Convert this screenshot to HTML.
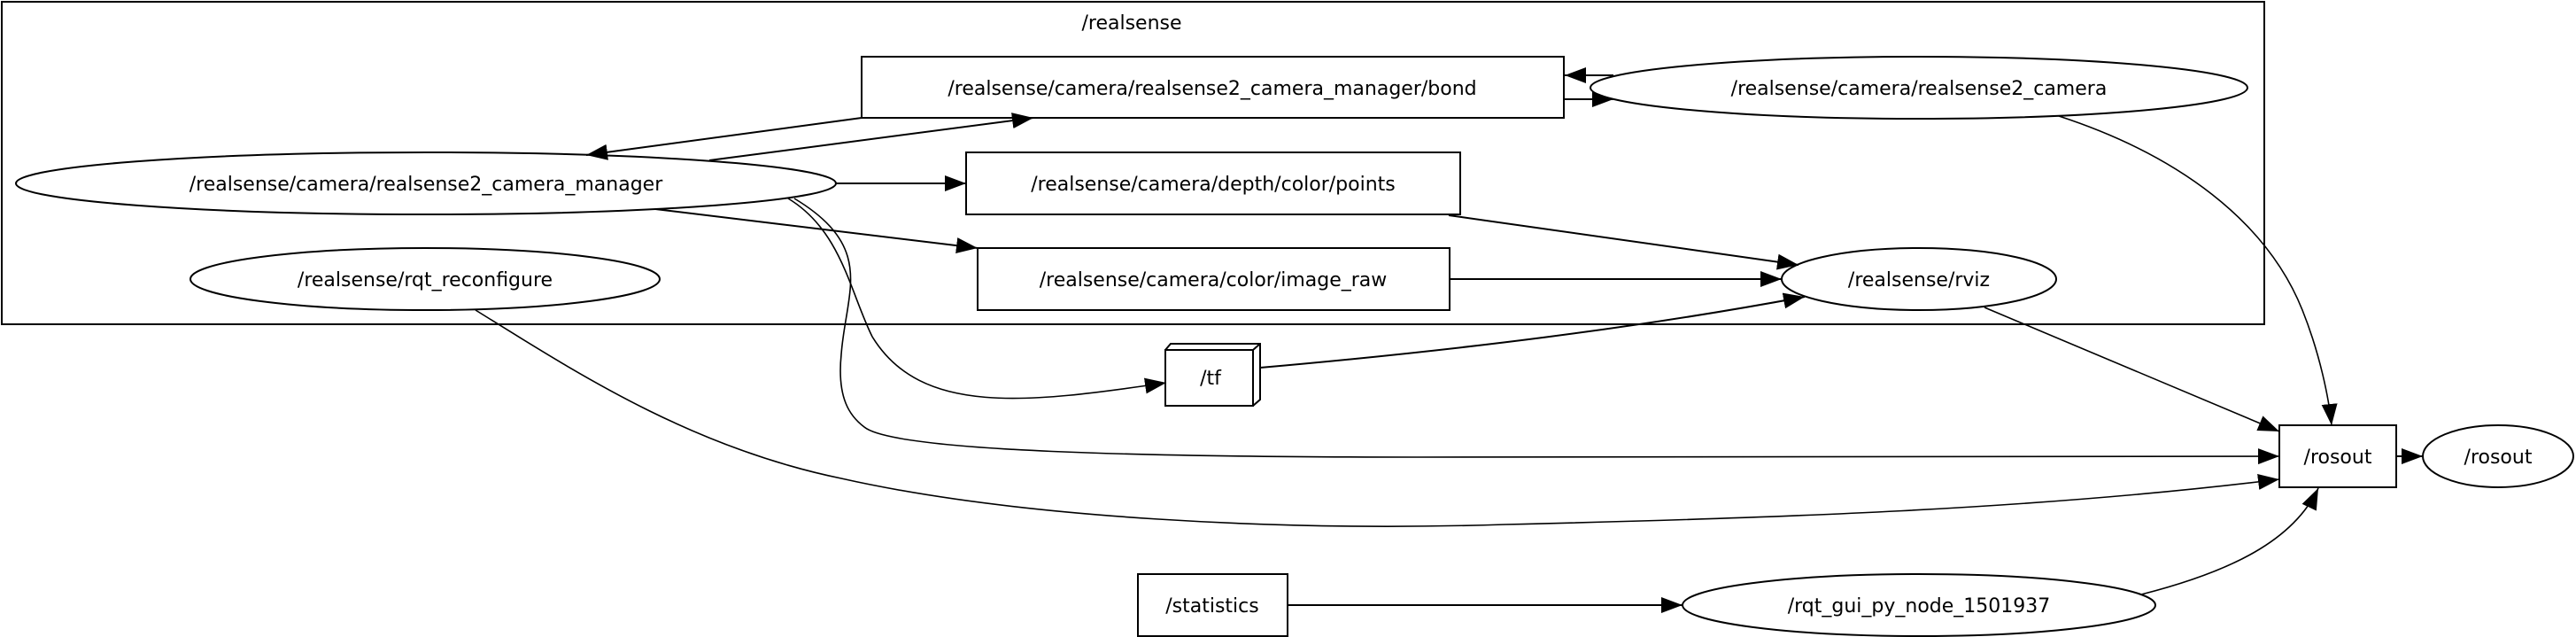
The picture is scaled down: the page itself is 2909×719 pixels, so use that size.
<!DOCTYPE html>
<html><head><meta charset="utf-8"><style>html,body{margin:0;padding:0;background:#fff}svg{display:block}</style></head>
<body>
<svg width="2909" height="719" viewBox="0 0 2909 719" xmlns="http://www.w3.org/2000/svg" font-family="'DejaVu Sans','Liberation Sans',sans-serif" font-size="22">
<defs>
<marker id="a" markerUnits="userSpaceOnUse" markerWidth="26" markerHeight="18" refX="24" refY="9" orient="auto"><path d="M0,0 L24,9 L0,18 z" fill="#000"/></marker>
</defs>
<rect x="0" y="0" width="2909" height="719" fill="#fff"/>
<rect x="2" y="2" width="2555" height="364" fill="none" stroke="#000" stroke-width="2"/>
<text x="1278" y="33" text-anchor="middle">/realsense</text>

<g fill="none" stroke="#000" stroke-width="2">
<rect x="973" y="64" width="793" height="69"/>
<ellipse cx="2167" cy="99" rx="371" ry="35"/>
<ellipse cx="481" cy="207" rx="463" ry="35"/>
<rect x="1091" y="172" width="558" height="70"/>
<rect x="1104" y="280" width="533" height="70"/>
<ellipse cx="480" cy="315" rx="265" ry="35"/>
<ellipse cx="2167" cy="315" rx="155" ry="35"/>
<rect x="1316" y="395" width="99" height="63"/>
<path d="M1316,395 L1322,388 L1423,388 L1423,451 L1415,458 M1415,395 L1423,388"/>
<rect x="2574" y="480" width="132" height="70"/>
<ellipse cx="2821" cy="515" rx="85" ry="35"/>
<rect x="1285" y="648" width="169" height="70"/>
<ellipse cx="2167" cy="683" rx="267" ry="35"/>
</g>

<g text-anchor="middle">
<text x="1369" y="107">/realsense/camera/realsense2_camera_manager/bond</text>
<text x="2167" y="107">/realsense/camera/realsense2_camera</text>
<text x="481" y="215">/realsense/camera/realsense2_camera_manager</text>
<text x="1370" y="215">/realsense/camera/depth/color/points</text>
<text x="1370" y="323">/realsense/camera/color/image_raw</text>
<text x="480" y="323">/realsense/rqt_reconfigure</text>
<text x="2167" y="323">/realsense/rviz</text>
<text x="1367" y="434">/tf</text>
<text x="2640" y="523">/rosout</text>
<text x="2821" y="523">/rosout</text>
<text x="1369" y="691">/statistics</text>
<text x="2167" y="691">/rqt_gui_py_node_1501937</text>
</g>

<g fill="none" stroke="#000" stroke-width="2" marker-end="url(#a)">
<path d="M973,133 L662,175"/>
<path d="M801,181 L1167,133"/>
<path d="M1822,85 L1767,85"/>
<path d="M1766,112 L1822,112"/>
<path d="M944,207 L1091,207"/>
<path d="M740,236 L1104,280"/>
<path d="M1636,243 L2031,299"/>
<path d="M1637,315 L2012,315"/>
<path d="M1423,415 C1650,395 1850,370 2038,335"/>
<path d="M2241,347 L2574,487" stroke-width="1.6"/>
<path d="M2706,515 L2736,515"/>
<path d="M1454,683 L1900,683"/>
<path d="M890,224 C950,260 960,330 985,380 C1040,470 1160,455 1317,432" stroke-width="1.6"/>
<path d="M897,224 C990,280 955,330 950,400 C945,450 960,470 976,482 C1010,510 1300,516 1600,516 C2000,518 2300,516 2574,515" stroke-width="1.6"/>
<path d="M537,350 C650,420 780,505 950,540 C1150,585 1450,600 1700,592 C2000,585 2300,575 2574,541" stroke-width="1.6"/>
<path d="M2325,131 C2460,175 2560,250 2600,350 C2620,400 2630,450 2633,480" stroke-width="1.6"/>
<path d="M2418,671 C2520,645 2590,610 2618,551" stroke-width="1.6"/>
</g>
</svg>
</body></html>
